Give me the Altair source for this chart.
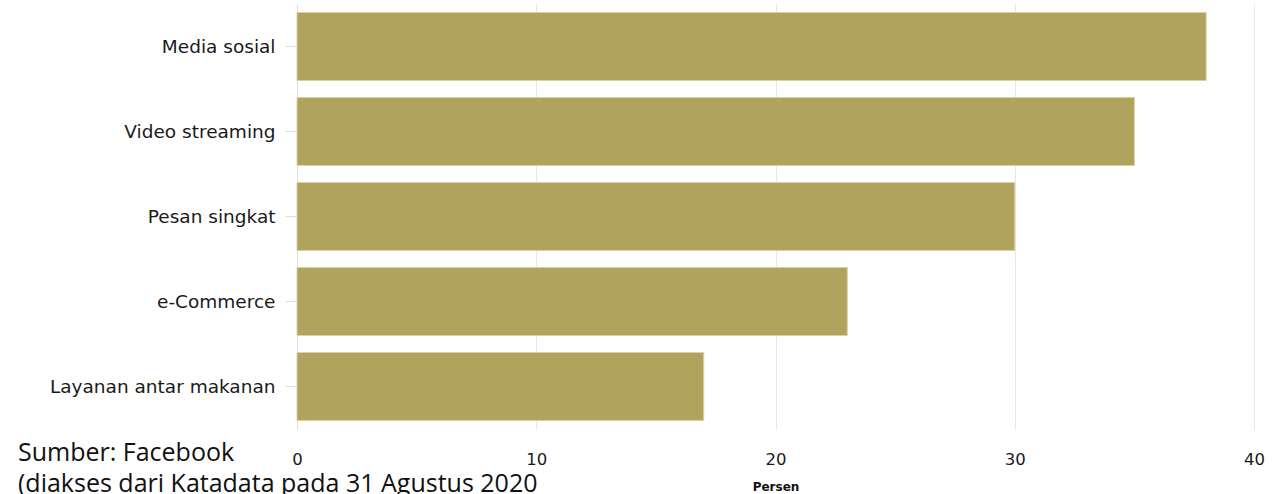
import altair as alt
import pandas as pd

categories = ["Media sosial", "Video streaming", "Pesan singkat", "e-Commerce", "Layanan antar makanan"]
values = [38, 35, 30, 23, 17]
x_ticks = [0, 10, 20, 30, 40]
source_lines = ["Sumber: Facebook", "(diakses dari Katadata pada 31 Agustus 2020"]

FONT = "Verdana, 'DejaVu Sans'"

df = pd.DataFrame({"kategori": categories, "persen": values})
src = pd.DataFrame({"t": ["\n".join(source_lines)]})

bars = alt.Chart(df).mark_bar(color="#B0A35E", stroke="#DAD1A3", strokeWidth=1).encode(
    y=alt.Y(
        "kategori:N",
        sort=categories,
        scale=alt.Scale(paddingInner=0.2, paddingOuter=0.1),
        axis=alt.Axis(
            title=None, labelFontSize=18.5, labelFont=FONT, labelColor="#1a1a1a",
            tickSize=12, tickColor="#dddddd", domainColor="#dddddd", labelPadding=10,
            grid=False, labelLimit=320,
        ),
    ),
    x=alt.X(
        "persen:Q",
        scale=alt.Scale(domain=[0, 40]),
        axis=alt.Axis(
            values=x_ticks, title="Persen", titleFont=FONT, titleFontSize=12,
            titleFontWeight="bold", titleColor="#111111", titlePadding=14,
            labelFont=FONT, labelFontSize=16.5, labelColor="#1a1a1a",
            labelPadding=22, ticks=False, domain=False, grid=True,
            gridColor="#e6e6e6", labelFlush=False,
        ),
    ),
)

source = alt.Chart(src).mark_text(
    align="left", baseline="alphabetic", lineBreak="\n", fontSize=25,
    lineHeight=31, font="Open Sans", color="#111111",
).encode(text="t:N", x=alt.value(-279), y=alt.value(457))

chart = alt.layer(bars, source).properties(
    width=957, height=425,
    autosize=alt.AutoSizeParams(type="none"),
    padding={"left": 297, "top": 4, "right": 18, "bottom": 65},
    background="white",
).configure_view(stroke=None)

chart.save("out.html", embed_options={"renderer": "svg", "actions": False})
